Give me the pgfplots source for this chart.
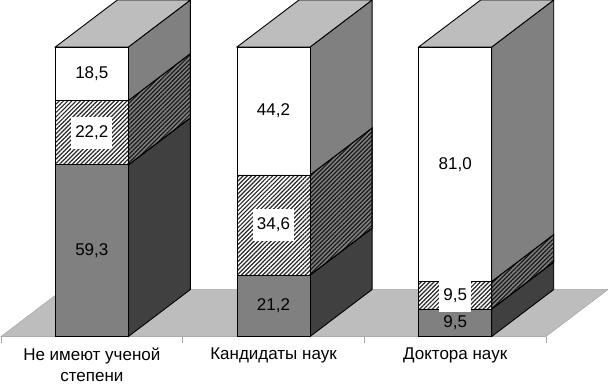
\documentclass[border=0pt]{standalone}
\usepackage{pgfplots}
\pgfplotsset{compat=1.18}
\usepackage{fontspec}
\setmainfont{Liberation Sans}
\usetikzlibrary{patterns.meta}
\definecolor{topc}{HTML}{BDBDBD}
\definecolor{midc}{HTML}{808080}
\definecolor{darkc}{HTML}{404040}
\tikzset{
  fronthatch/.style={pattern={Lines[angle=45,distance=3bp,line width=1.2bp]},pattern color=black!85},
  sidehatch/.style={pattern={Lines[angle=45,distance=3bp,line width=1.2bp]},pattern color=black!90}
}
\pgfplotsset{
  base/.style={
    scale only axis,width=545bp,height=336.5bp,
    xmin=-0.5,xmax=2.5,ymin=0,ymax=116.24,clip=false,ytick=\empty
  }
}
% dx = 62 px = 0.3416 category units; dy = 47 px = 16.24 percent; half bar = 36.5 px = 0.2011
\begin{document}
\begin{tikzpicture}
\useasboundingbox (-1bp,-48.5bp) rectangle (607bp,336.5bp);
\begin{axis}[base,
  axis x line=bottom,axis y line=none,axis line style={draw=gray!70,-},
  xtick={0,1,2},xticklabels={{Не имеют ученой\\степени},{Кандидаты наук},{Доктора наук}},
  minor xtick={-0.5,0.5,1.5,2.5},
  major tick length=0pt,minor tick length=6bp,
  every minor tick/.style={draw=gray!70,line width=0.5pt},tick align=outside,
  xticklabel style={align=center,font=\fontsize{17bp}{21bp}\selectfont,text=black,yshift=-8bp,anchor=north}]
% floor
\addplot[fill=topc,draw=gray!70,line width=0.5pt] coordinates {(-0.5,0)(2.5,0)(2.8416,16.24)(-0.1584,16.24)} -- cycle;
% bar 1 sides
\addplot[fill=darkc,draw=black,line width=0.9pt] coordinates {(0.2011,0)(0.5427,16.24)(0.5427,75.54)(0.2011,59.3)} -- cycle;
\addplot[fill=midc,draw=black,line width=0.9pt,postaction={sidehatch}] coordinates {(0.2011,59.3)(0.5427,75.54)(0.5427,97.74)(0.2011,81.5)} -- cycle;
\addplot[fill=midc,draw=black,line width=0.9pt] coordinates {(0.2011,81.5)(0.5427,97.74)(0.5427,116.24)(0.2011,100)} -- cycle;
\addplot[fill=topc,draw=black,line width=0.9pt] coordinates {(-0.2011,100)(0.2011,100)(0.5427,116.24)(0.1405,116.24)} -- cycle;
% bar 2 sides
\addplot[fill=darkc,draw=black,line width=0.9pt] coordinates {(1.2011,0)(1.5427,16.24)(1.5427,37.44)(1.2011,21.2)} -- cycle;
\addplot[fill=midc,draw=black,line width=0.9pt,postaction={sidehatch}] coordinates {(1.2011,21.2)(1.5427,37.44)(1.5427,72.04)(1.2011,55.8)} -- cycle;
\addplot[fill=midc,draw=black,line width=0.9pt] coordinates {(1.2011,55.8)(1.5427,72.04)(1.5427,116.24)(1.2011,100)} -- cycle;
\addplot[fill=topc,draw=black,line width=0.9pt] coordinates {(0.7989,100)(1.2011,100)(1.5427,116.24)(1.1405,116.24)} -- cycle;
% bar 3 sides
\addplot[fill=darkc,draw=black,line width=0.9pt] coordinates {(2.2011,0)(2.5427,16.24)(2.5427,25.74)(2.2011,9.5)} -- cycle;
\addplot[fill=midc,draw=black,line width=0.9pt,postaction={sidehatch}] coordinates {(2.2011,9.5)(2.5427,25.74)(2.5427,35.24)(2.2011,19)} -- cycle;
\addplot[fill=midc,draw=black,line width=0.9pt] coordinates {(2.2011,19)(2.5427,35.24)(2.5427,116.24)(2.2011,100)} -- cycle;
\addplot[fill=topc,draw=black,line width=0.9pt] coordinates {(1.7989,100)(2.2011,100)(2.5427,116.24)(2.1405,116.24)} -- cycle;
\end{axis}
\begin{axis}[base,hide axis,ybar stacked,bar width=73bp,xtick=\empty]
\addplot[fill=midc,draw=black,line width=0.9pt] coordinates {(0,59.3)(1,21.2)(2,9.5)};
\addplot[fill=white,draw=black,line width=0.9pt,postaction={fronthatch}] coordinates {(0,22.2)(1,34.6)(2,9.5)};
\addplot[fill=white,draw=black,line width=0.9pt] coordinates {(0,18.5)(1,44.2)(2,81.0)};
\end{axis}
\begin{axis}[base,hide axis,xtick=\empty]
\addplot[draw=none,mark=none,nodes near coords,point meta=explicit symbolic,
  nodes near coords style={anchor=center,font=\fontsize{17bp}{18bp}\selectfont,text=black,inner xsep=4bp,inner ysep=0pt,
    fill=white,minimum height=32bp}]
  table[meta=l] {
x y l
0 70.4 {22,2}
1 38.5 {34,6}
2 14.0 {9,5}
};
\addplot[draw=none,mark=none,nodes near coords,point meta=explicit symbolic,
  nodes near coords style={anchor=center,font=\fontsize{17bp}{18bp}\selectfont,text=black}]
  table[meta=l] {
x y l
0 29.65 {59,3}
0 90.75 {18,5}
1 10.6 {21,2}
1 77.9 {44,2}
2 4.75 {9,5}
2 59.5 {81,0}
};
\end{axis}
\end{tikzpicture}
\end{document}
